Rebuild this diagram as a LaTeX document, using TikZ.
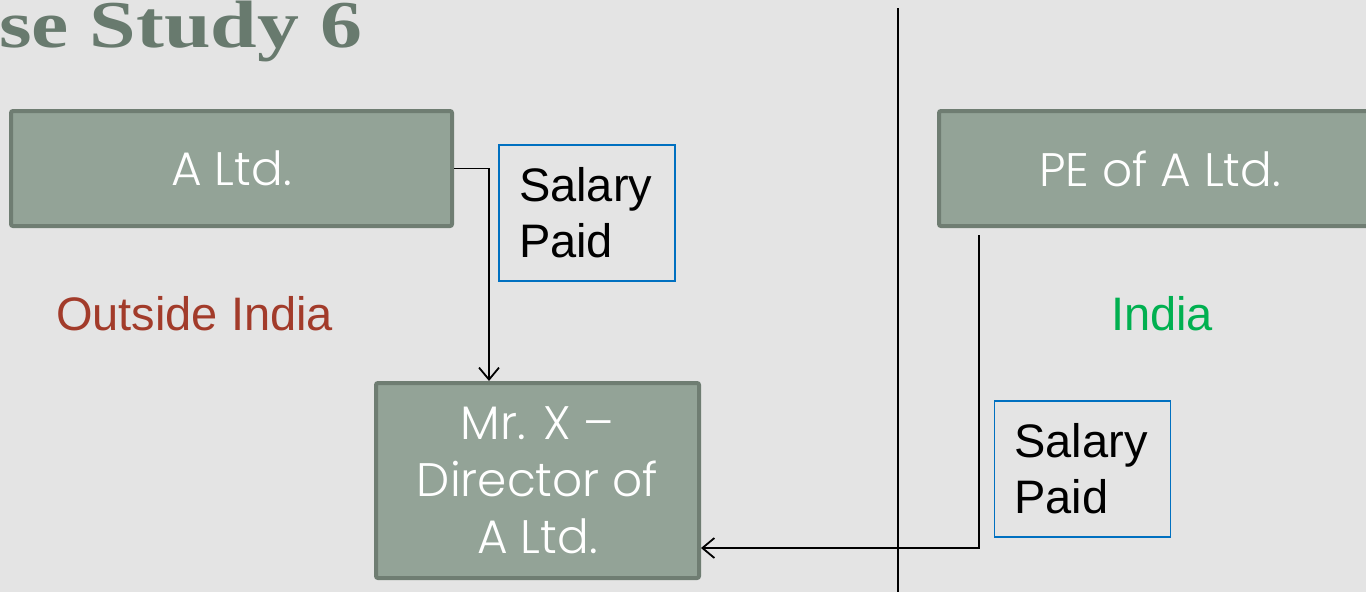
\documentclass[tikz,border=0pt]{standalone}
\usepackage{fontspec}
\setmainfont{Liberation Sans}
\newfontfamily\boxfont{Poppins Light}
\newfontfamily\titlefont{Liberation Serif}
\usetikzlibrary{arrows.meta,calc}
\definecolor{bg}{HTML}{E4E4E4}
\definecolor{boxfill}{HTML}{93A397}
\definecolor{boxline}{HTML}{6F7D72}
\definecolor{titlecol}{HTML}{687A6E}
\definecolor{salline}{HTML}{0070C0}
\definecolor{outred}{HTML}{A23B2A}
\definecolor{indgreen}{HTML}{00B050}
\tikzset{
  greenbox/.style={draw=boxline, fill=boxfill, line width=4pt, rounded corners=2pt,
    text=white, font=\boxfont\fontsize{47}{57}\selectfont, align=center, inner sep=0pt},
  salbox/.style={draw=salline, line width=1.5pt, text=black, align=left,
    font=\fontsize{47}{56}\selectfont, inner xsep=20pt, inner ysep=0pt,
    minimum height=136pt, text width=136pt},
  conn/.style={line width=1.8pt, black},
  arr/.style={conn, -{Straight Barb[length=12pt,width=20pt,line width=1.8pt]}},
}
\begin{document}
\begin{tikzpicture}[x=1pt,y=-1pt]
\fill[bg] (0,0) rectangle (1366,592);
\useasboundingbox (0,0) rectangle (1366,592);
\clip (0,0) rectangle (1366,592);
% title
\node[anchor=base west, inner sep=0pt, text=titlecol, xscale=1.25,
  font=\titlefont\bfseries\fontsize{67}{70}\selectfont] (title) at (-1,47) {se Study 6};
% boxes
\node[greenbox, minimum width=441pt, minimum height=115pt] (altd) at (231.5,168.5) {A Ltd.};
\node[greenbox, minimum width=323pt, minimum height=195pt] (mrx) at (537.5,480.5) {Mr. X –\\Director of\\A Ltd.};
\node[greenbox, minimum width=442pt, minimum height=115pt] (pe) at (1160,168.5) {PE of A Ltd.};
\node[salbox] (sal1) at (587,213) {Salary\\Paid};
\node[salbox] (sal2) at (1082.5,469) {Salary\\Paid};
\node[text=outred, font=\fontsize{47}{50}\selectfont, inner sep=0pt] (outside) at (194.5,314) {Outside India};
\node[text=indgreen, font=\fontsize{47}{50}\selectfont, inner sep=0pt] (india) at (1162,314) {India};
% divider
\coordinate (vtop) at (898,8);
\coordinate (vbot) at (898,592);
\draw[conn] (vtop) -- (vbot);
% connectors
\coordinate (k1) at (489,168.5);
\draw[arr] (altd.east) -- (k1) -- (k1 |- mrx.north);
\coordinate (p1) at (979,235);
\coordinate (p2) at (979,548);
\draw[arr] (p1) -- (p2) -- (p2 -| mrx.east);
\end{tikzpicture}
\end{document}
